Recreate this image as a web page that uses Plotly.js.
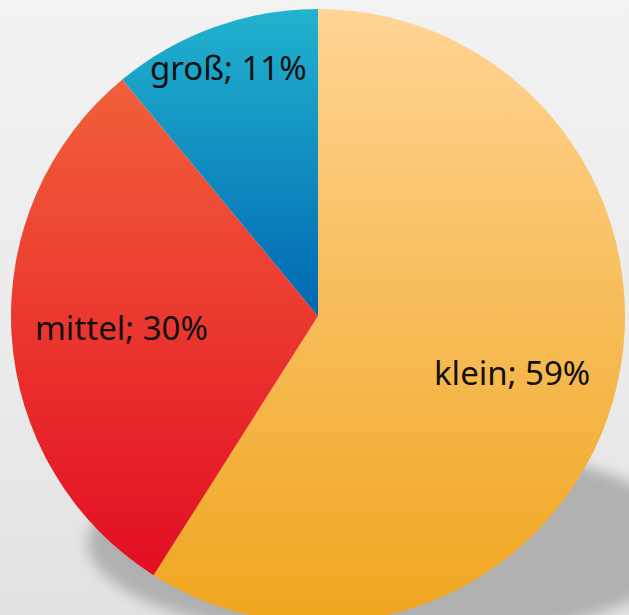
<!DOCTYPE html>
<html>
<head>
<meta charset="utf-8">
<script src="https://cdn.plot.ly/plotly-3.0.1.min.js"></script>
<style>
html, body { margin: 0; padding: 0; overflow: hidden; width: 629px; height: 615px;
  background: linear-gradient(to bottom, #f2f2f2 0%, #ebebeb 60%, #e2e2e2 100%); }
#chart { width: 629px; height: 640px; }
</style>
</head>
<body>
<div id="chart"></div>
<script>
// Data
const labels = ["klein", "mittel", "groß"];
const values = [59, 30, 11];
// Gradient colours per slice (top -> bottom)
const topColors = ["#ffd494", "#f2603a", "#22b3cf"];
const bottomColors = ["#f0a51d", "#e30d23", "#0067b2"];
// Label anchor positions (pixels in the 629x640 figure)
const labelPos = [[512, 372], [121, 327], [228, 67]];

const W = 629, H = 640;
const cx = 318, cy = 316, r = 307;

const trace = {
  type: "pie",
  labels: labels,
  values: values,
  sort: false,
  direction: "clockwise",
  rotation: 0,
  textinfo: "none",
  hoverinfo: "skip",
  marker: { colors: topColors, line: { width: 0 } },
  domain: { x: [(cx - r) / W, (cx + r) / W], y: [(H - cy - r) / H, (H - cy + r) / H] },
  showlegend: false
};

const total = values.reduce((a, b) => a + b, 0);
const annotations = labels.map((lab, i) => ({
  text: lab + "; " + Math.round(values[i] / total * 100) + "%",
  xref: "paper", yref: "paper",
  x: labelPos[i][0] / W, y: 1 - labelPos[i][1] / H,
  xanchor: "center", yanchor: "middle",
  showarrow: false,
  font: { family: "Noto Sans, Open Sans, sans-serif", size: 33, color: "#111" }
}));

// perspective shadow ellipse (pixels)
const sh = { x0: 88, x1: 688, y0: 442, y1: 642 };

const layout = {
  width: W, height: H,
  margin: { l: 0, r: 0, t: 0, b: 0 },
  paper_bgcolor: "rgba(0,0,0,0)",
  plot_bgcolor: "rgba(0,0,0,0)",
  annotations: annotations,
  shapes: [{
    type: "circle", layer: "below", xref: "paper", yref: "paper",
    x0: sh.x0 / W, x1: sh.x1 / W, y0: 1 - sh.y1 / H, y1: 1 - sh.y0 / H,
    fillcolor: "#b0b0b0", line: { width: 0 }
  }]
};

Plotly.newPlot("chart", [trace], layout, { staticPlot: true, displayModeBar: false }).then(() => {
  const svg = document.querySelector("#chart .main-svg");
  const NS = "http://www.w3.org/2000/svg";
  const defs = document.createElementNS(NS, "defs");
  let html = "";
  for (let i = 0; i < labels.length; i++) {
    html += '<linearGradient id="sg' + i + '" x1="0" y1="0" x2="0" y2="1">' +
      '<stop offset="0" stop-color="' + topColors[i] + '"/>' +
      '<stop offset="1" stop-color="' + bottomColors[i] + '"/></linearGradient>';
  }
  html += '<filter id="shblur" x="-20%" y="-50%" width="140%" height="200%">' +
    '<feGaussianBlur stdDeviation="7"/></filter>';
  defs.innerHTML = html;
  svg.insertBefore(defs, svg.firstChild);
  const paths = document.querySelectorAll("#chart .pielayer .slice path.surface");
  paths.forEach((p, i) => { p.style.setProperty("fill", "url(#sg" + i + ")"); });
  document.querySelectorAll("#chart .shapelayer path").forEach(p => p.setAttribute("filter", "url(#shblur)"));
});
</script>
</body>
</html>
